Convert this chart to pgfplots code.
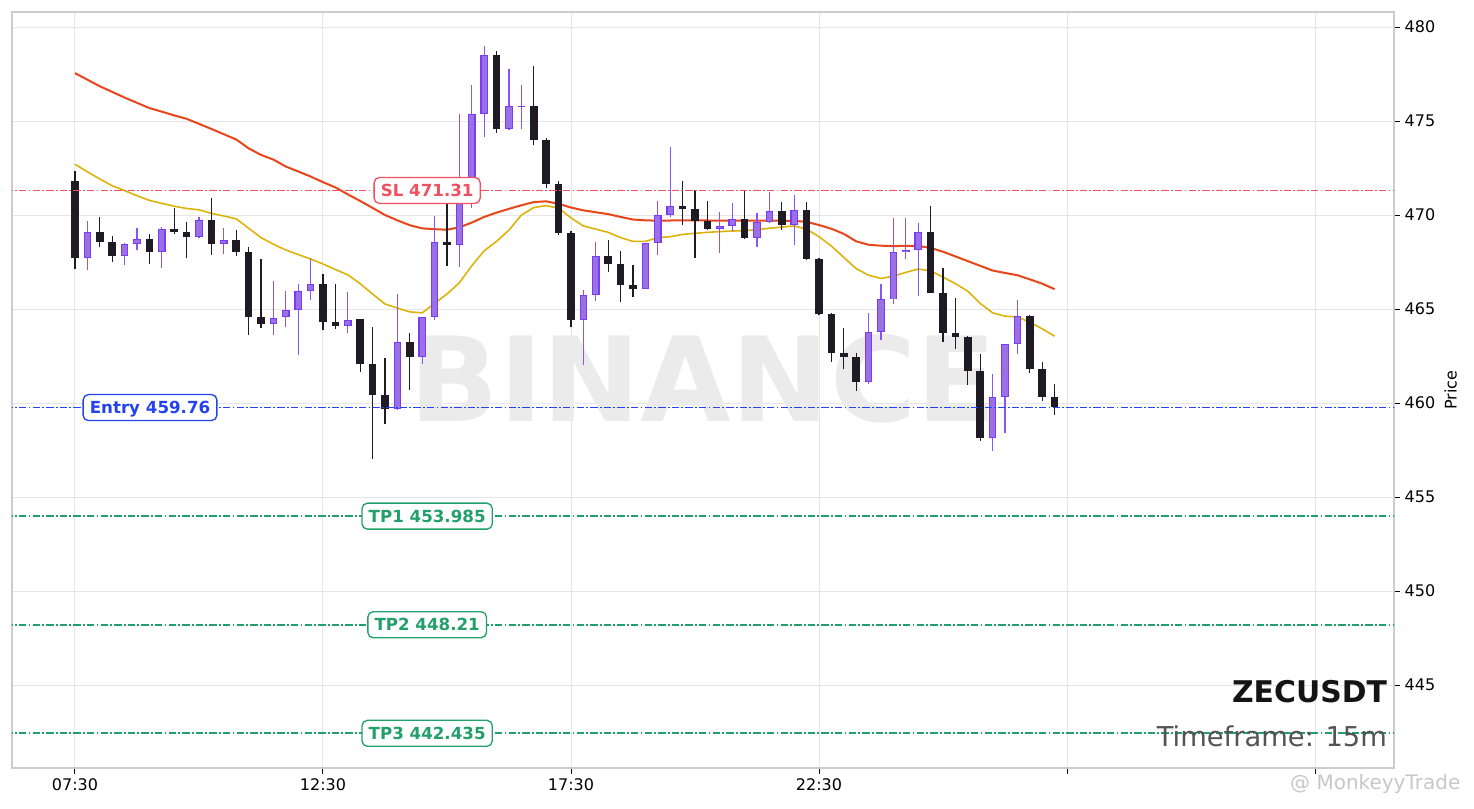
\documentclass[border=0pt]{standalone}
\usepackage{pgfplots}
\pgfplotsset{compat=1.18}
\usepackage{pgfplotstable}
\usepackage{fontspec}
\setmainfont{DejaVu Sans}

\definecolor{bullfill}{HTML}{9B6FE6}
\definecolor{bulledge}{HTML}{7A3CF2}
\definecolor{bullwick}{HTML}{8A55F5}
\definecolor{bear}{HTML}{1F1A24}
\definecolor{emaslow}{HTML}{E84619}
\definecolor{emafast}{HTML}{DDB30A}
\definecolor{slred}{HTML}{F0505F}
\definecolor{entryblue}{HTML}{2443F0}
\definecolor{tpgreen}{HTML}{22A06B}
\definecolor{gridgray}{HTML}{E6E6E6}
\definecolor{framegray}{HTML}{CCCCCC}
\definecolor{wmgray}{HTML}{EBEBEB}

% 15m candles, index 0 = 07:30
\pgfplotstableread{
i o h l c
0 471.81 472.36 467.11 467.70
1 467.70 469.70 467.07 469.08
2 469.08 469.88 468.28 468.55
3 468.55 468.87 467.52 467.84
4 467.84 468.53 467.34 468.44
5 468.44 469.29 468.12 468.71
6 468.71 469.00 467.39 468.05
7 468.05 469.38 467.16 469.24
8 469.24 470.36 469.00 469.11
9 469.11 469.64 467.70 468.81
10 468.81 469.91 468.79 469.72
11 469.72 470.92 467.87 468.47
12 468.47 469.32 467.91 468.65
13 468.65 469.20 467.84 468.05
14 468.05 468.31 463.62 464.59
15 464.59 467.64 463.97 464.22
16 464.22 466.51 463.62 464.50
17 464.56 465.97 464.04 464.93
18 464.93 466.33 462.55 465.94
19 465.94 467.70 465.48 466.31
20 466.31 466.85 463.87 464.32
21 464.32 466.31 463.94 464.11
22 464.11 465.89 463.71 464.40
23 464.45 464.48 461.66 462.07
24 462.10 464.06 457.00 460.44
25 460.44 462.38 458.87 459.70
26 459.70 465.78 459.65 463.23
27 463.23 463.74 460.69 462.43
28 462.43 464.60 462.07 464.56
29 464.56 469.95 464.41 468.55
30 468.55 471.06 467.27 468.42
31 468.42 475.36 467.23 470.62
32 470.62 476.90 470.40 475.36
33 475.36 478.97 474.15 478.49
34 478.49 478.74 474.36 474.59
35 474.59 477.78 474.55 475.78
36 475.75 476.93 474.57 475.82
37 475.82 477.94 473.71 473.97
38 473.97 474.10 471.44 471.67
39 471.67 471.79 468.92 469.03
40 469.03 469.16 464.03 464.43
41 464.43 466.03 462.04 465.73
42 465.73 468.55 465.44 467.80
43 467.80 468.65 466.95 467.41
44 467.41 468.07 465.37 466.26
45 466.26 467.36 465.62 466.08
46 466.08 468.51 466.05 468.51
47 468.51 470.73 467.86 470.02
48 470.02 473.60 469.88 470.48
49 470.48 471.82 469.47 470.30
50 470.30 471.33 467.73 469.66
51 469.66 470.76 469.20 469.27
52 469.27 470.18 467.96 469.41
53 469.41 470.62 469.16 469.79
54 469.79 471.33 468.75 468.79
55 468.79 470.09 468.31 469.63
56 469.63 471.24 469.60 470.21
57 470.21 470.68 469.20 469.47
58 469.47 471.06 468.40 470.27
59 470.27 470.71 467.62 467.66
60 467.66 467.70 464.68 464.72
61 464.72 464.80 462.20 462.64
62 462.64 463.97 461.79 462.46
63 462.46 462.65 460.65 461.13
64 461.13 464.80 461.01 463.76
65 463.76 466.31 463.35 465.51
66 465.51 469.82 465.27 468.02
67 468.02 469.82 467.64 468.14
68 468.14 469.59 465.69 469.11
69 469.11 470.48 465.83 465.87
70 465.87 467.20 463.26 463.74
71 463.74 465.57 462.87 463.53
72 463.53 463.56 460.96 461.72
73 461.72 462.59 458.00 458.12
74 458.12 461.53 457.46 460.30
75 460.30 463.15 458.42 463.12
76 463.12 465.48 462.61 464.64
77 464.64 464.68 461.61 461.79
78 461.79 462.16 460.11 460.34
79 460.34 460.99 459.36 459.77
}\candles

\pgfplotstableread{
i slow fast
0 477.55 472.70
1 477.20 472.30
2 476.85 471.92
3 476.55 471.56
4 476.25 471.30
5 475.97 471.03
6 475.69 470.78
7 475.50 470.62
8 475.30 470.47
9 475.12 470.35
10 474.85 470.28
11 474.58 470.09
12 474.30 469.95
13 474.02 469.80
14 473.55 469.30
15 473.20 468.80
16 472.95 468.45
17 472.58 468.14
18 472.32 467.90
19 472.05 467.66
20 471.75 467.40
21 471.47 467.10
22 471.10 466.82
23 470.75 466.35
24 470.38 465.80
25 470.00 465.27
26 469.72 465.05
27 469.46 464.85
28 469.29 464.80
29 469.25 465.30
30 469.22 465.80
31 469.35 466.40
32 469.60 467.30
33 469.90 468.10
34 470.13 468.60
35 470.33 469.20
36 470.52 470.00
37 470.69 470.40
38 470.73 470.50
39 470.60 470.37
40 470.40 469.85
41 470.25 469.42
42 470.15 469.25
43 470.05 469.08
44 469.90 468.80
45 469.76 468.60
46 469.72 468.60
47 469.70 468.80
48 469.71 468.85
49 469.72 468.97
50 469.72 469.03
51 469.71 469.08
52 469.71 469.12
53 469.71 469.15
54 469.70 469.17
55 469.70 469.22
56 469.71 469.30
57 469.70 469.36
58 469.69 469.42
59 469.64 469.25
60 469.47 468.85
61 469.27 468.35
62 469.00 467.75
63 468.60 467.15
64 468.42 466.80
65 468.37 466.63
66 468.35 466.75
67 468.36 466.95
68 468.36 467.13
69 468.25 467.03
70 468.05 466.70
71 467.80 466.35
72 467.55 465.95
73 467.30 465.30
74 467.05 464.80
75 466.92 464.62
76 466.80 464.58
77 466.58 464.30
78 466.35 463.95
79 466.06 463.56
}\ema

\tikzset{
  lvl/.style={line width=1.3pt, dash pattern=on 5.5pt off 1.7pt on 1.3pt off 1.7pt},
  lbl/.style={fill=white, rounded corners=4pt, line width=1pt,
    font=\bfseries\fontsize{12.5}{14}\selectfont,
    inner xsep=5pt, inner ysep=5.25pt, text height=9pt, text depth=0pt},
}

\begin{document}
\begin{tikzpicture}
\path[use as bounding box] (-9pt,-30pt) rectangle (1096.5pt,576pt);
\begin{axis}[
    scale only axis,
    width=1036.5pt, height=567pt,
    xmin=-5.08, xmax=106.37,
    ymin=440.59, ymax=480.8,
    axis line style={framegray, line width=0.8pt},
    grid=major,
    major grid style={gridgray, line width=0.75pt},
    xtick={0,20,40,60,80,100},
    xticklabels={07:30,12:30,17:30,22:30,{},{}},
    ytick={445,450,...,480},
    xtick pos=bottom, ytick pos=right, yticklabel pos=right,
    tick align=outside, major tick length=4.5pt,
    tick style={black, line width=0.75pt},
    ticklabel style={font=\fontsize{12}{14}\selectfont, text=black},
    /pgf/number format/assume math mode=true,
    yticklabel style={/pgf/number format/.cd, fixed, precision=0},
    ylabel=Price,
    ylabel style={font=\fontsize{12}{14}\selectfont},
]

\node[text=wmgray, font=\bfseries\fontsize{88}{90}\selectfont]
  at (rel axis cs:0.5,0.515) {BINANCE};

% moving averages
\addplot[emaslow, line width=1.5pt, mark=none] table[x=i, y=slow] {\ema};
\addplot[emafast, line width=1.2pt, mark=none] table[x=i, y=fast] {\ema};

% wicks
\addplot[draw=none, mark=none,
  restrict expr to domain={\thisrow{o}-\thisrow{c}}{0.00001:100},
  error bars/.cd, y dir=plus, y explicit, error mark=none,
  error bar style={draw=bear, line width=1pt}]
  table[x=i, y=l, y error expr={\thisrow{h}-\thisrow{l}}] {\candles};
\addplot[draw=none, mark=none,
  restrict expr to domain={\thisrow{c}-\thisrow{o}}{0:100},
  error bars/.cd, y dir=plus, y explicit, error mark=none,
  error bar style={draw=bullwick, line width=1pt}]
  table[x=i, y=l, y error expr={\thisrow{h}-\thisrow{l}}] {\candles};

% bodies
\addplot[draw=none, mark=none,
  restrict expr to domain={\thisrow{o}-\thisrow{c}}{0.00001:100},
  error bars/.cd, y dir=plus, y explicit, error mark=none,
  error bar style={draw=bear, line width=5.6pt}]
  table[x=i, y=c, y error expr={\thisrow{o}-\thisrow{c}}] {\candles};
\addplot[draw=none, mark=none,
  restrict expr to domain={\thisrow{c}-\thisrow{o}}{0:100},
  error bars/.cd, y dir=plus, y explicit, error mark=none,
  error bar style={draw=bulledge, line width=5.6pt}]
  table[x=i, y=o, y error expr={\thisrow{c}-\thisrow{o}}] {\candles};
\addplot[draw=none, mark=none,
  restrict expr to domain={\thisrow{c}-\thisrow{o}}{0:100},
  error bars/.cd, y dir=plus, y explicit, error mark=none,
  error bar style={draw=bullfill, line width=4pt}]
  table[x=i, y expr={\thisrow{o}+0.05}, y error expr={max(\thisrow{c}-\thisrow{o}-0.1,0)}] {\candles};

% trade levels
\addplot[draw=slred, lvl] coordinates {(-10,471.31) (120,471.31)};
\addplot[draw=entryblue, lvl] coordinates {(-10,459.76) (120,459.76)};
\addplot[draw=tpgreen, lvl] coordinates {(-10,453.985) (120,453.985)};
\addplot[draw=tpgreen, lvl] coordinates {(-10,448.21) (120,448.21)};
\addplot[draw=tpgreen, lvl] coordinates {(-10,442.435) (120,442.435)};

\node[lbl, draw=slred, text=slred] at (axis cs:28.4,471.31) {SL 471.31};
\node[lbl, draw=entryblue, text=entryblue] at (axis cs:6.05,459.76) {Entry 459.76};
\node[lbl, draw=tpgreen, text=tpgreen] at (axis cs:28.4,453.985) {TP1 453.985};
\node[lbl, draw=tpgreen, text=tpgreen] at (axis cs:28.4,448.21) {TP2 448.21};
\node[lbl, draw=tpgreen, text=tpgreen] at (axis cs:28.4,442.435) {TP3 442.435};

\node[anchor=base east, inner sep=0pt, text=black!92, font=\bfseries\fontsize{22.4}{24}\selectfont]
  at (rel axis cs:0.9951,0.086) {ZECUSDT};
\node[anchor=base east, inner sep=0pt, text=black!67, font=\fontsize{20.5}{22}\selectfont]
  at (rel axis cs:0.9951,0.029) {Timeframe: 15m};
\end{axis}
\node[anchor=base east, text=black!22, font=\fontsize{15}{17}\selectfont]
  at ([xshift=53.25pt, yshift=-15.75pt]current axis.south east) {@ MonkeyyTrade};
\end{tikzpicture}
\end{document}
